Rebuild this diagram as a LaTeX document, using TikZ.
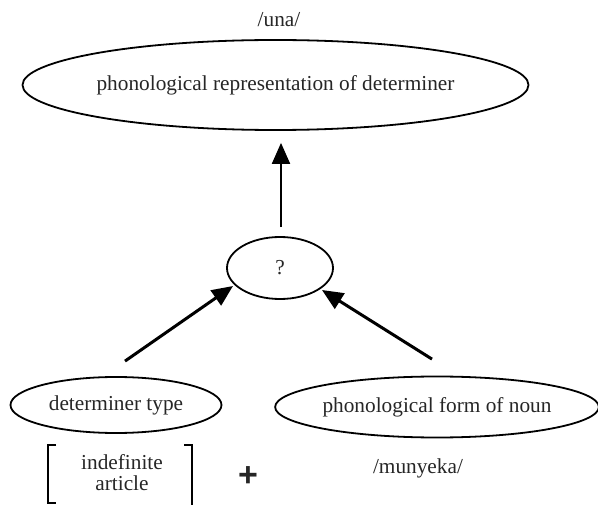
\documentclass[tikz,border=0pt]{standalone}
\usepackage{fontspec}
\setmainfont{Liberation Serif}
\newfontfamily\plusfont{Liberation Sans}
\usetikzlibrary{shapes.geometric,arrows.meta}
\begin{document}
\begin{tikzpicture}[x=1pt,y=-1pt,
  oval/.style={draw, ellipse, line width=1.8pt, inner sep=0pt,
    font=\fontsize{21.3}{24}\selectfont, text=black!85},
  lbl/.style={font=\fontsize{21.3}{24}\selectfont, text=black!85, inner sep=0pt},
  arr/.style={-{Triangle[length=21pt,width=18pt]}, line width=3pt},
  brk/.style={line width=2pt}]
\useasboundingbox (0,0) rectangle (598,505);
\node[lbl] (una) at (279,20) {/una/};
\node[oval, minimum width=481pt, minimum height=90pt] (top) at (275.5,85)
  {phonological representation of determiner};
\node[oval, minimum width=106pt, minimum height=62pt] (q) at (280,268) {?};
\node[oval, minimum width=211pt, minimum height=56pt] (det) at (116,405) {determiner type};
\node[oval, minimum width=320pt, minimum height=61pt] (noun) at (437,407)
  {phonological form of noun};
\node[lbl, align=center, font=\fontsize{21.3}{21}\selectfont] (art) at (122,473)
  {indefinite\\article};
\node[lbl, font=\plusfont\bfseries\fontsize{34}{34}\selectfont] (plus) at (248,477) {+};
\node[lbl] (muny) at (418,468) {/munyeka/};
% brackets
\draw[brk] ([shift={(-66,-28)}]art.center) -- ([shift={(-74,-28)}]art.center)
  -- ([shift={(-74,30)}]art.center) -- ([shift={(-66,30)}]art.center);
\draw[brk] ([shift={(62,-28)}]art.center) -- ([shift={(70,-28)}]art.center)
  -- ([shift={(70,34)}]art.center);
% arrows
\draw[arr, line width=2pt, shorten <=9pt, shorten >=12pt]
  ([xshift=1pt]q.north) -- ([xshift=1pt]q.north |- top.south);
\draw[arr] ([shift={(9,-15)}]det.north) -- ([shift={(-47,18)}]q.center);
\draw[arr] ([shift={(-5,-16.5)}]noun.north) -- ([shift={(42,22)}]q.center);
\end{tikzpicture}
\end{document}
